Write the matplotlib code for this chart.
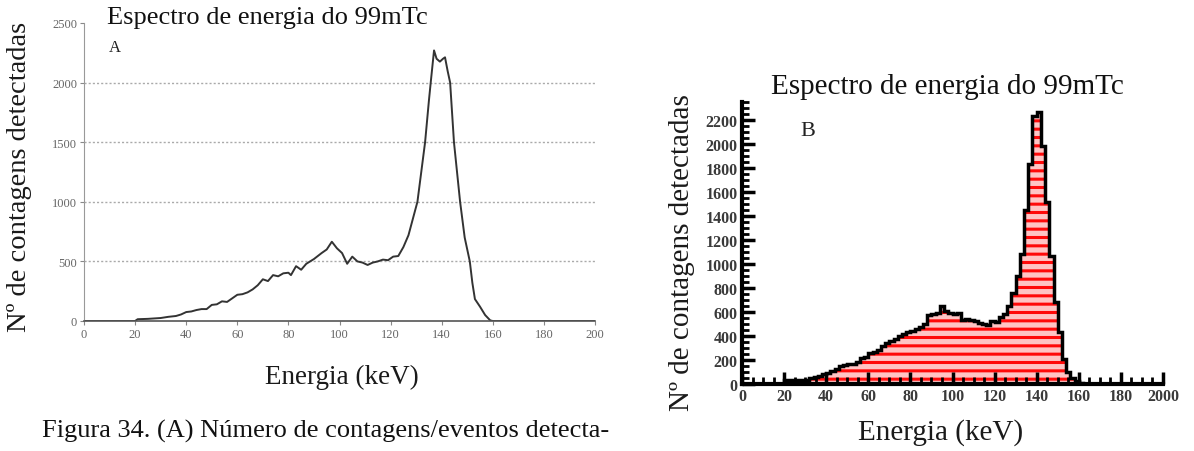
import matplotlib
matplotlib.use("Agg")
import matplotlib.pyplot as plt
import numpy as np

plt.rcParams['font.family'] = ['Liberation Serif', 'DejaVu Serif']
plt.rcParams['hatch.linewidth'] = 2.2

# ---- Panel A data (line spectrum) ----
energy_a = [0, 20, 21, 25, 30, 33, 36, 38, 40, 42, 44, 46, 48, 50, 52, 54, 56, 58, 60, 62,
            64, 66, 68, 70, 72, 74, 76, 78, 80, 81, 83, 85, 87, 90, 93, 95, 97, 99, 101, 103,
            105, 107, 109, 111, 113, 115, 117, 119, 121, 123, 125, 127, 129, 130.5, 132, 133.5,
            135, 135.7, 137, 138, 139.3, 140.5, 141.3, 142.3, 143.3, 144.8, 146, 147.2, 149,
            151, 152, 153, 155, 157, 159, 160, 200]
counts_a = [0, 0, 15, 18, 25, 35, 42, 55, 75, 80, 92, 100, 100, 135, 140, 165, 160, 190, 220, 225,
            240, 265, 300, 350, 335, 385, 375, 400, 405, 385, 460, 430, 480, 520, 570, 600, 665, 610, 570, 480,
            540, 500, 490, 470, 490, 500, 515, 510, 540, 545, 620, 720, 880, 1000, 1250, 1500,
            1850, 2000, 2270, 2200, 2176, 2200, 2212, 2100, 2000, 1500, 1250, 1000, 700,
            500, 320, 184, 120, 50, 5, 0, 0]
xticks_a = [0, 20, 40, 60, 80, 100, 120, 140, 160, 180, 200]
yticks_a = [0, 500, 1000, 1500, 2000, 2500]

# ---- Panel B data (histogram, 2 keV bins) ----
bin_edges_b = list(range(20, 164, 2))
counts_b = [35, 30, 30, 30, 32, 35, 50, 60, 70, 80, 95, 105, 125, 150, 155, 165, 170, 180,
            215, 225, 255, 265, 285, 320, 340, 360, 375, 400, 420, 435, 445, 460, 475, 500,
            575, 580, 590, 650, 610, 590, 580, 595, 530, 545, 535, 525, 510, 500, 490, 525,
            520, 555, 580, 650, 760, 900, 1080, 1450, 1830, 2230, 2270, 1980, 1520, 1065,
            680, 430, 210, 100, 50, 28, 10]
xticks_b = [0, 20, 40, 60, 80, 100, 120, 140, 160, 180, 200]
xticklabels_b = ["0", "20", "40", "60", "80", "100", "120", "140", "160", "180", "2000"]
yticks_b = [0, 200, 400, 600, 800, 1000, 1200, 1400, 1600, 1800, 2000, 2200]

title = "Espectro de energia do 99mTc"
ylabel = "Nº de contagens detectadas"
xlabel = "Energia (keV)"
caption = "Figura 34. (A) Número de contagens/eventos detecta-"

W, H = 1194, 452
fig = plt.figure(figsize=(W / 100, H / 100), dpi=100)

def ax_rect(x0, x1, ytop, ybot):
    return [x0 / W, 1 - ybot / H, (x1 - x0) / W, (ybot - ytop) / H]

# ---------------- Panel A ----------------
axA = fig.add_axes(ax_rect(84, 595, 24, 322))
axA.plot(energy_a, counts_a, color='#333333', lw=1.4)
axA.set_xlim(0, 200)
axA.set_ylim(0, 2500)
axA.set_xticks(xticks_a)
axA.set_yticks(yticks_a)
for s in ['top', 'right']:
    axA.spines[s].set_visible(False)
axA.spines['left'].set_color('#999999')
axA.spines['bottom'].set_color('#555555')
axA.spines['bottom'].set_linewidth(1.2)
axA.tick_params(axis='both', direction='out', length=3, width=0.8, color='#888888',
                labelsize=9, labelcolor='#666666', pad=2)
for y in yticks_a[1:-1]:
    axA.axhline(y, color='#aaaaaa', lw=1.0, ls=(0, (1.5, 1.5)), zorder=0)
fig.text(107 / W, 1 - 18 / H, title, fontsize=19, ha='left', va='center', color='#111111')
fig.text(115 / W, 1 - 48 / H, "A", fontsize=12, ha='center', va='center', color='#222222')
fig.text(20 / W, 1 - 177 / H, ylabel, fontsize=20.5, rotation=90, ha='center', va='center',
         color='#1a1a1a')
fig.text(342 / W, 1 - 377 / H, xlabel, fontsize=19.5, ha='center', va='center', color='#1a1a1a')
fig.text(42 / W, 1 - 431 / H, caption, fontsize=19, ha='left', va='center', color='#111111')

# ---------------- Panel B ----------------
axB = fig.add_axes(ax_rect(742, 1163, 103, 385))
axB.stairs(counts_b, bin_edges_b, fill=True, facecolor='#ffc4c4', edgecolor='#ff0a0a',
           hatch='--', lw=0, zorder=1)
axB.stairs(counts_b, bin_edges_b, fill=False, color='black', lw=2.5, zorder=3)
axB.set_xlim(0, 200)
axB.set_ylim(0, 2350)
axB.set_xticks(xticks_b)
axB.set_xticklabels(xticklabels_b)
axB.set_yticks(yticks_b)
axB.set_xticks(np.arange(0, 201, 5), minor=True)
axB.set_yticks(np.arange(0, 2351, 50), minor=True)
for s in ['top', 'right']:
    axB.spines[s].set_visible(False)
for s in ['left', 'bottom']:
    axB.spines[s].set_linewidth(3)
    axB.spines[s].set_color('black')
axB.tick_params(axis='both', which='major', direction='in', length=9, width=2.5, color='black',
                labelsize=11.5, labelcolor='#3a3a3a', pad=3)
axB.tick_params(axis='both', which='minor', direction='in', length=5, width=2, color='black')
for lab in axB.get_xticklabels() + axB.get_yticklabels():
    lab.set_fontweight('bold')
fig.text(947 / W, 1 - 87 / H, title, fontsize=21, ha='center', va='center', color='#111111')
fig.text(808 / W, 1 - 132 / H, "B", fontsize=16, ha='center', va='center', color='#222222')
fig.text(682 / W, 1 - 253 / H, ylabel, fontsize=21, rotation=90, ha='center', va='center',
         color='#1a1a1a')
fig.text(941 / W, 1 - 433 / H, xlabel, fontsize=21, ha='center', va='center', color='#1a1a1a')

fig.savefig("out.png", dpi=100)
